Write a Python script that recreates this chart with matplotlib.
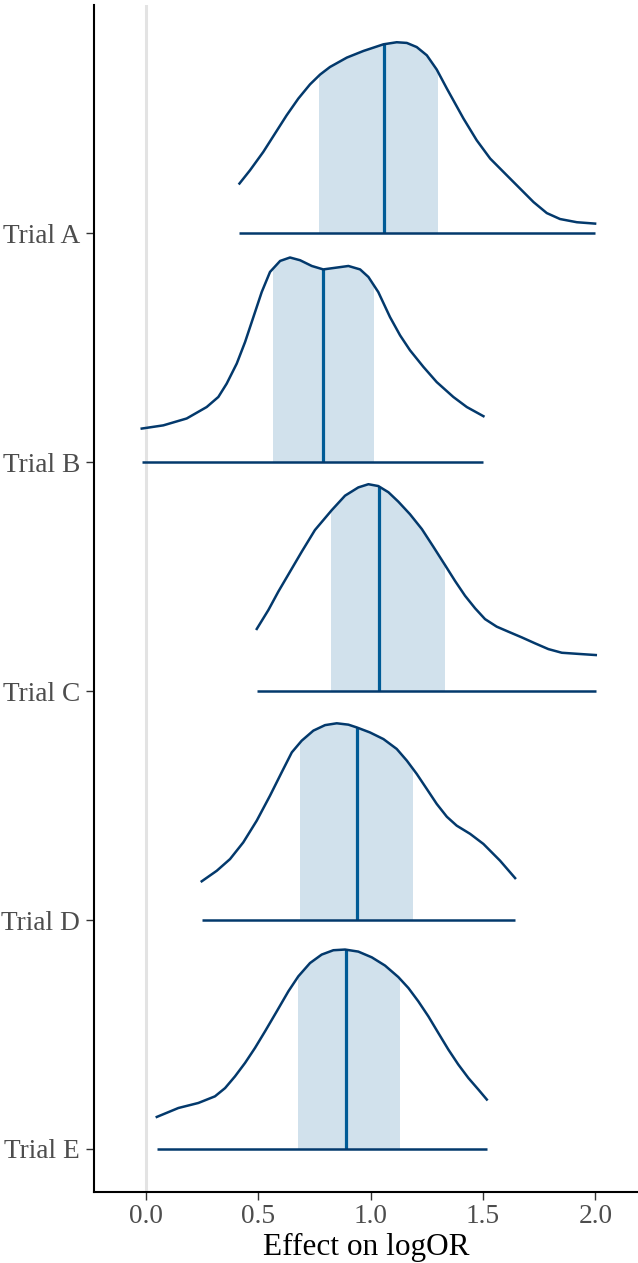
import numpy as np
import matplotlib
matplotlib.use("Agg")
import matplotlib.pyplot as plt
from matplotlib.patches import Rectangle, Polygon

plt.rcParams['font.family'] = ['Liberation Serif', 'DejaVu Serif']

trials = ["Trial A", "Trial B", "Trial C", "Trial D", "Trial E"]

# density outlines (x, relative height in row units)
xA = [0.416, 0.463, 0.522, 0.574, 0.626, 0.678, 0.730, 0.775, 0.819, 0.894, 0.968, 1.057, 1.116, 1.161,
      1.205, 1.250, 1.294, 1.339, 1.413, 1.472, 1.532, 1.606, 1.665, 1.725, 1.784, 1.843, 1.918, 1.999]
hA = [0.216, 0.274, 0.354, 0.434, 0.514, 0.587, 0.649, 0.692, 0.725, 0.766, 0.795, 0.824, 0.833, 0.830,
      0.812, 0.776, 0.714, 0.631, 0.500, 0.405, 0.325, 0.252, 0.194, 0.135, 0.087, 0.061, 0.047, 0.041]
xB = [-0.019, 0.077, 0.181, 0.270, 0.322, 0.359, 0.404, 0.441, 0.478, 0.515, 0.552, 0.597, 0.641, 0.686,
      0.738, 0.789, 0.849, 0.901, 0.953, 0.990, 1.034, 1.086, 1.131, 1.175, 1.235, 1.294, 1.368, 1.428, 1.502]
hB = [0.146, 0.160, 0.190, 0.240, 0.284, 0.342, 0.430, 0.524, 0.633, 0.742, 0.830, 0.878, 0.893, 0.881,
      0.856, 0.841, 0.849, 0.856, 0.841, 0.808, 0.742, 0.633, 0.553, 0.488, 0.415, 0.349, 0.284, 0.240, 0.200]
xC = [0.493, 0.545, 0.589, 0.641, 0.693, 0.752, 0.827, 0.886, 0.945, 0.990, 1.034, 1.079, 1.123, 1.175,
      1.228, 1.279, 1.331, 1.376, 1.420, 1.465, 1.509, 1.561, 1.613, 1.673, 1.732, 1.791, 1.851, 1.925, 2.002]
hC = [0.271, 0.354, 0.434, 0.521, 0.608, 0.703, 0.790, 0.853, 0.889, 0.903, 0.895, 0.868, 0.827, 0.772,
      0.707, 0.630, 0.550, 0.480, 0.416, 0.361, 0.314, 0.281, 0.259, 0.234, 0.208, 0.183, 0.167, 0.162, 0.157]
xD = [0.248, 0.315, 0.374, 0.433, 0.493, 0.552, 0.604, 0.649, 0.693, 0.745, 0.797, 0.849, 0.901, 0.938,
      0.997, 1.057, 1.116, 1.161, 1.205, 1.250, 1.294, 1.339, 1.383, 1.443, 1.502, 1.576, 1.643]
hD = [0.169, 0.215, 0.266, 0.339, 0.434, 0.543, 0.645, 0.732, 0.783, 0.827, 0.851, 0.859, 0.853, 0.841,
      0.819, 0.790, 0.747, 0.696, 0.638, 0.572, 0.507, 0.451, 0.412, 0.376, 0.332, 0.259, 0.183]
xE = [0.048, 0.144, 0.233, 0.307, 0.352, 0.396, 0.441, 0.485, 0.530, 0.582, 0.634, 0.678, 0.730, 0.782,
      0.834, 0.886, 0.945, 1.005, 1.064, 1.123, 1.168, 1.212, 1.257, 1.301, 1.346, 1.390, 1.435, 1.480, 1.517]
hE = [0.140, 0.179, 0.201, 0.230, 0.266, 0.317, 0.376, 0.441, 0.514, 0.601, 0.689, 0.754, 0.812, 0.849,
      0.868, 0.871, 0.862, 0.837, 0.801, 0.751, 0.703, 0.645, 0.579, 0.507, 0.434, 0.369, 0.310, 0.259, 0.216]

interval_lo = [0.772, 0.567, 0.824, 0.687, 0.677]
interval_hi = [1.294, 1.012, 1.328, 1.186, 1.126]
medians = [1.061, 0.789, 1.037, 0.938, 0.890]

xticks = [0.0, 0.5, 1.0, 1.5, 2.0]
xticklabels = ["0.0", "0.5", "1.0", "1.5", "2.0"]

curves_x = [xA, xB, xC, xD, xE]
curves_h = [hA, hB, hC, hD, hE]

c_light = "#d1e1ec"
c_mid = "#005b96"
c_dark = "#03396c"

W, H = 638, 1263
fig = plt.figure(figsize=(W / 100, H / 100), dpi=100)
ax = fig.add_axes([94 / W, (H - 1192) / H, 1 - 94 / W, (1192 - 5) / H])

n = len(trials)
ypos = np.arange(n, 0, -1)  # Trial A at top

ax.axvline(0, color="#e3e3e3", lw=2.2, zorder=0)

for i in range(n):
    xs = np.array(curves_x[i])
    hs = np.array(curves_h[i])
    base = ypos[i]
    verts = [(xs[0], base)] + list(zip(xs, base + hs)) + [(xs[-1], base)]
    poly = Polygon(verts, closed=True, transform=ax.transData)
    fb = ax.fill_between(xs, base, base + hs, color=c_light, lw=0, zorder=1)
    rect = Rectangle((interval_lo[i], base), interval_hi[i] - interval_lo[i], 1.5,
                     transform=ax.transData)
    fb.set_clip_path(rect)
    ml, = ax.plot([medians[i], medians[i]], [base, base + 1.5], color=c_mid, lw=2.3,
                  solid_capstyle="butt", zorder=2)
    ml.set_clip_path(poly)
    ax.plot(xs, base + hs, color=c_dark, lw=1.8, zorder=3, solid_joinstyle="round")
    ax.plot([xs[0], xs[-1]], [base, base], color=c_dark, lw=1.8, zorder=3,
            solid_capstyle="butt")

ax.set_xlim(-0.2315, 2.19)
ax.set_ylim(1 - 43 / 229, n + 228 / 229)

ax.set_yticks(ypos)
ax.set_yticklabels(trials)
ax.set_xticks(xticks)
ax.set_xticklabels(xticklabels)
ax.tick_params(axis="both", colors="#333333", labelcolor="#4d4d4d", labelsize=19.7,
               length=5.5, width=1.0)
ax.tick_params(axis="y", pad=4.5)
ax.tick_params(axis="x", pad=3)
for s in ["top", "right"]:
    ax.spines[s].set_visible(False)
for s in ["left", "bottom"]:
    ax.spines[s].set_linewidth(1.5)
    ax.spines[s].set_color("black")

ax.set_xlabel("Effect on logOR", fontsize=22.5, color="black", va="baseline")
ax.xaxis.set_label_coords(0.5, (1192 - 1255) / 1187)

fig.savefig("out.png", dpi=100)
